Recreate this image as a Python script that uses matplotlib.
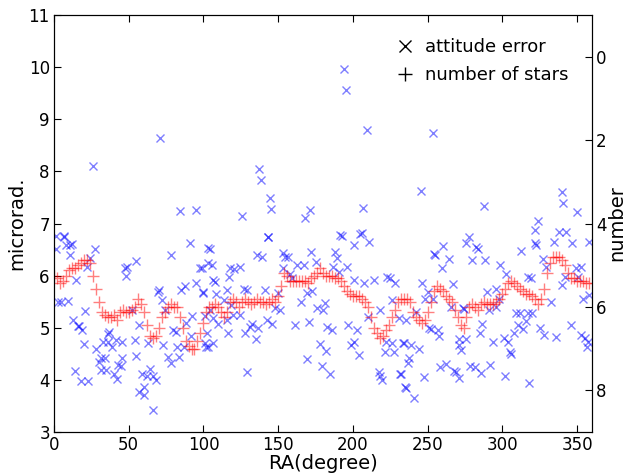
import matplotlib
matplotlib.use('Agg')
import matplotlib.pyplot as plt
from matplotlib.lines import Line2D

# number of stars (drawn in the microrad. scale of the left axis), one value every 2 degrees
star_ra = list(range(0, 360, 2))
star_val = [6.0, 5.95, 5.85, 5.9, 6.0, 6.1, 6.15, 6.15, 6.2, 6.25,
            6.3, 6.3, 6.25, 6.0, 5.75, 5.5, 5.3, 5.25, 5.2, 5.2,
            5.25, 5.15, 5.3, 5.35, 5.3, 5.3, 5.35, 5.4, 5.55, 5.45,
            5.3, 5.05, 4.85, 4.8, 4.85, 5.0, 5.2, 5.3, 5.4, 5.45,
            5.4, 5.4, 5.2, 5.0, 4.75, 4.65, 4.6, 4.6, 4.75, 4.9,
            5.1, 5.3, 5.4, 5.4, 5.45, 5.4, 5.3, 5.2, 5.3, 5.5,
            5.55, 5.5, 5.4, 5.5, 5.55, 5.5, 5.45, 5.5, 5.55, 5.5,
            5.5, 5.45, 5.5, 5.55, 5.5, 5.6, 5.8, 6.05, 6.0, 5.9,
            5.9, 5.9, 5.9, 5.9, 5.9, 5.85, 5.95, 6.0, 6.05, 6.15,
            6.05, 6.0, 6.0, 6.0, 5.95, 5.95, 5.9, 5.8, 5.7, 5.65,
            5.6, 5.6, 5.6, 5.55, 5.5, 5.4, 5.2, 5.0, 4.9, 4.8,
            4.85, 4.95, 5.05, 5.2, 5.35, 5.5, 5.55, 5.55, 5.55, 5.5,
            5.3, 5.2, 5.15, 5.1, 5.15, 5.3, 5.5, 5.7, 5.8, 5.75,
            5.7, 5.6, 5.55, 5.5, 5.35, 5.2, 5.05, 5.0, 5.2, 5.4,
            5.45, 5.4, 5.35, 5.45, 5.5, 5.45, 5.45, 5.45, 5.5, 5.55,
            5.65, 5.75, 5.85, 5.9, 5.85, 5.8, 5.75, 5.7, 5.65, 5.65,
            5.6, 5.55, 5.45, 5.55, 5.75, 6.05, 6.25, 6.35, 6.35, 6.35,
            6.3, 6.2, 6.05, 5.95, 5.95, 5.9, 5.9, 5.9, 5.85, 5.85]

# attitude error (microrad.)
err_ra = [1, 7, 1, 8, 11, 12, 10.5, 2.7, 5, 9.6, 15, 20.5, 12.7, 16, 17, 19, 19.8, 14, 17.8, 23,
          24, 22, 27.5, 28, 30, 31.5, 31.5, 34, 35, 33, 36, 37, 36, 39, 41.5, 40, 42, 43, 44.5, 45.5,
          45.5, 47.3, 49, 48, 55, 52, 54, 55, 57, 57, 60, 59, 60.5, 62, 63, 64.5, 66, 66.5, 68, 69.5,
          70, 72.5, 73, 74, 76, 78, 78, 79.5, 81.5, 82.5, 83.5, 85, 87.5, 88, 87, 91, 92.5, 91.5, 95, 98,
          100, 101, 103, 103, 102, 26, 70.8, 84, 95.3, 6.7,
          194, 195.3, 209.4, 137.3, 138.4, 144.2, 145.3, 126, 171.4, 167.9, 206.5, 142.9, 192.4, 205,
          253.4, 245.7, 287.6, 340, 340.6, 350, 323.8, 322, 337.7, 342.8, 278,
          143, 104.5, 105.6, 106.7, 107.8, 99, 100, 136, 139, 118, 120.5, 124.5, 117, 127, 129, 115.5,
          108.7, 114, 118.3, 104.5, 106.7, 110, 115.6, 120, 124.6, 101, 103.3, 106.7, 102.2, 116.7, 128,
          131, 132.3, 135, 136.8, 142.4, 145.8, 141.3, 129, 148, 150, 151, 153.5, 154.6, 156.3, 153.5,
          158, 159, 162.5, 167.4, 172, 175, 165, 169.4, 161.3, 170.3, 176, 181, 180, 172.5, 188, 189.4,
          187, 191, 196, 200.4, 207.6, 214, 218.3, 191.5, 201, 206, 211, 182.5, 186, 197, 202.4, 210,
          178, 182, 198.4, 200.4, 203.8, 169.4, 179.5, 184.6, 217.2, 219.5, 218.3, 222.8, 225, 228.3,
          221.9, 221.7, 227.3, 226, 226, 234.3, 231.6, 235.7,
          275.7, 282.4, 284, 260, 254.5, 255, 264.5, 259.4, 280, 288.5, 298.5, 302.6, 312.6, 321.6,
          322.7, 327.2, 329.5, 334.3, 346.9, 358, 317, 319, 340, 341.7, 349.6, 352.9, 350.7, 246.2,
          250, 248.4, 253.4, 266.8, 265.7, 273.5, 274, 289.6, 295.9, 295.9, 291, 286.5, 284.7, 275.7,
          270.8, 271.3, 272.4, 242, 235.5, 231, 250.7, 252, 256.7, 257.8, 244.4, 238.8, 233.7, 237.2,
          236.6, 232, 235, 240.6, 247.3, 258, 262, 267.6, 268.8, 271, 278.6, 282, 285.8, 291.4, 293.6,
          300.8, 303.9, 304.8, 306, 301.5, 308, 310.4, 313.8, 315.6, 309.3, 311.6, 317, 320, 325, 327.9,
          335.7, 317.8, 346, 352.9, 356.3, 355, 357.4, 354, 358, 298, 332.8]
err_val = [6.77, 6.76, 6.51, 6.58, 6.58, 6.6, 6.4, 5.5, 5.5, 5.52, 5.92, 5.33, 5.14, 5.03, 5.03, 4.96, 4.69, 4.17, 3.97, 3.97,
           6.34, 6.17, 6.51, 4.59, 4.35, 4.42, 4.19, 4.42, 4.19, 4.72, 4.88, 4.91, 4.72, 4.64, 4.77, 4.12, 4.01, 4.29, 4.26, 4.42,
           4.72, 6.15, 6.17, 6.0, 6.29, 5.35, 4.77, 4.46, 5.06, 3.76, 3.71, 4.12, 3.87, 4.08, 4.7, 4.21, 3.42, 4.08, 3.99, 5.68,
           5.73, 5.54, 4.67, 5.35, 4.44, 4.32, 6.4, 4.96, 4.91, 4.63, 4.44, 5.73, 5.8, 5.1, 4.63, 6.62, 5.23, 4.85, 5.86, 6.15,
           5.68, 5.22, 6.53, 6.24, 4.63, 8.1, 8.64, 7.24, 7.26, 6.74,
           9.96, 9.57, 8.79, 8.05, 7.83, 7.48, 7.28, 7.15, 7.26, 7.1, 7.3, 6.75, 6.76, 6.8,
           8.74, 7.62, 7.34, 7.6, 7.4, 7.22, 7.05, 6.87, 6.84, 6.83, 6.75,
           6.75, 6.52, 6.21, 5.91, 5.88, 6.14, 5.66, 6.39, 6.36, 6.14, 6.12, 6.17, 5.98, 5.75, 5.72, 5.72,
           5.64, 5.53, 5.43, 5.34, 5.18, 5.08, 5.15, 5.24, 5.24, 4.7, 4.63, 4.7, 4.89, 4.89, 4.89,
           5.02, 5.08, 4.78, 5.0, 5.15, 5.08, 5.73, 4.15, 5.37, 5.67, 5.34, 6.43, 6.36, 6.35, 6.14,
           6.04, 5.95, 6.2, 6.2, 6.46, 6.27, 5.5, 5.66, 5.05, 5.11, 5.37, 5.48, 5.34, 5.71, 6.46, 6.33,
           6.17, 6.07, 6.17, 5.91, 5.85, 5.91, 5.34, 6.78, 6.59, 6.81, 6.65, 5.02, 4.96, 5.05, 4.96, 5.2,
           4.69, 4.56, 4.67, 4.73, 4.47, 4.41, 4.26, 4.12, 4.15, 4.0, 4.08, 5.98, 5.95, 5.85,
           4.73, 4.54, 4.54, 4.71, 5.53, 4.7, 4.11, 3.85,
           6.62, 6.55, 6.52, 6.57, 6.41, 6.4, 6.31, 6.15, 6.3, 6.3, 6.21, 6.04, 6.47, 6.62,
           6.59, 6.31, 6.17, 6.65, 6.62, 6.64, 5.98, 5.96, 5.82, 5.98, 6.14, 6.17, 5.98, 5.86,
           5.69, 5.56, 5.56, 5.84, 5.39, 5.37, 5.36, 5.69, 5.75, 5.4, 5.34, 5.07, 4.89, 4.79,
           4.79, 4.67, 4.58, 5.31, 5.15, 5.18, 4.99, 4.97, 4.95, 4.84, 4.6, 4.67, 4.7, 4.42,
           4.33, 4.12, 3.87, 3.66, 4.06, 4.24, 4.3, 4.17, 4.15, 4.03, 4.26, 4.24, 4.14, 4.28, 4.73,
           4.81, 4.73, 4.54, 4.5, 4.08, 4.89, 5.06, 4.97, 5.13, 5.29, 5.29, 5.29, 5.29, 5.0, 4.86,
           4.83, 3.94, 5.05, 4.86, 4.64, 4.8, 4.73, 5.56, 5.62, 5.56, 5.5]

fig = plt.figure(figsize=(6.23, 4.74), dpi=100)
ax = fig.add_axes([0.0867, 0.0886, 0.8636, 0.8797])

ax.plot(err_ra, err_val, linestyle='none', marker='x', color='blue',
        alpha=0.5, markersize=6, markeredgewidth=1)
ax.plot(star_ra, star_val, linestyle='none', marker='+', color='red',
        alpha=0.5, markersize=9, markeredgewidth=1)

ax.set_xlim(0, 360)
ax.set_ylim(3, 11)
ax.set_xticks(range(0, 360, 50))
ax.set_yticks(range(3, 12))
ax.tick_params(direction='in', top=True, right=False, labelsize=12, length=5, pad=3)
ax.set_xlabel('RA(degree)', fontsize=14, labelpad=0)
ax.set_ylabel('microrad.', fontsize=14, labelpad=2)

# right axis for the number of stars
ax2 = ax.twinx()
ax2.set_ylim(9, -1)
ax2.set_yticks([0, 2, 4, 6, 8])
ax2.tick_params(direction='in', labelsize=12, length=5, pad=3)
ax2.set_ylabel('number', fontsize=14, labelpad=0)

handles = [Line2D([], [], linestyle='none', marker='x', color='black', markersize=8),
           Line2D([], [], linestyle='none', marker='+', color='black', markersize=10)]
ax.legend(handles, ['attitude error', 'number of stars'], loc='upper right',
          frameon=False, fontsize=13, handlelength=1, handletextpad=0.6,
          borderaxespad=0.9, labelspacing=0.55)

fig.savefig('out.png', dpi=100)
